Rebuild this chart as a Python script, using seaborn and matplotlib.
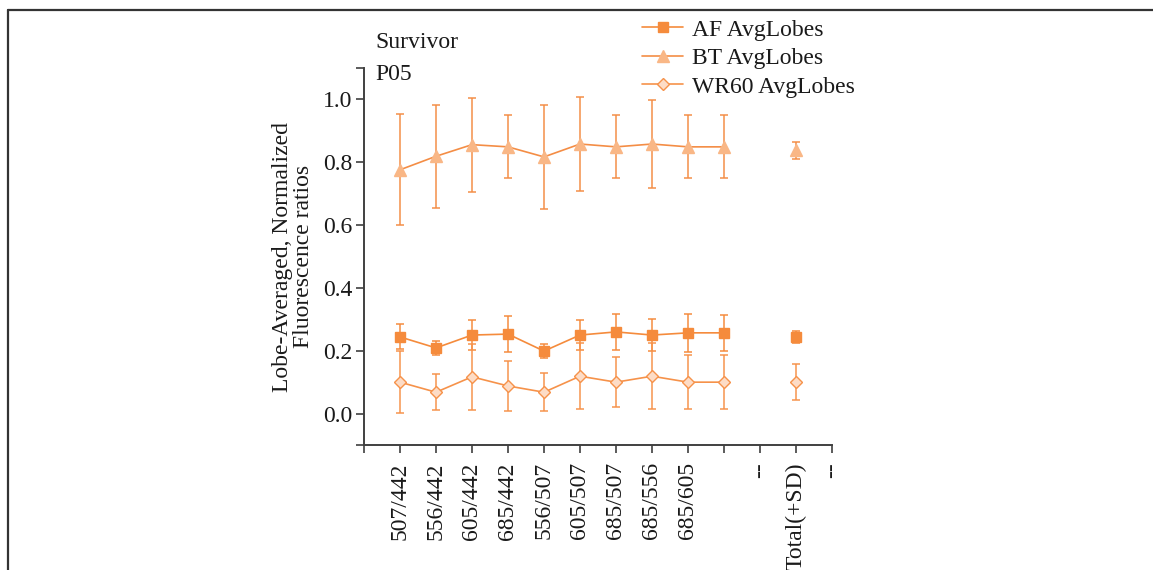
import matplotlib
matplotlib.use("Agg")
import matplotlib.pyplot as plt
import seaborn as sns
import pandas as pd
from matplotlib.lines import Line2D

# tick labels as printed under the x axis (tick 0 and tick 10 carry no label)
tick_labels = ["", "507/442", "556/442", "605/442", "685/442", "556/507",
               "605/507", "685/507", "685/556", "685/605", "", "--", "Total(+SD)", "--"]

af_mean = [0.244, 0.209, 0.250, 0.253, 0.199, 0.250, 0.260, 0.250, 0.257, 0.257]
af_sd = [0.040, 0.023, 0.048, 0.058, 0.022, 0.048, 0.058, 0.050, 0.060, 0.057]
bt_mean = [0.776, 0.819, 0.856, 0.849, 0.817, 0.858, 0.849, 0.858, 0.849, 0.849]
bt_sd = [0.177, 0.164, 0.150, 0.100, 0.165, 0.150, 0.100, 0.140, 0.100, 0.100]
wr_mean = [0.100, 0.068, 0.117, 0.088, 0.068, 0.119, 0.100, 0.119, 0.100, 0.100]
wr_sd = [0.098, 0.057, 0.105, 0.080, 0.060, 0.105, 0.080, 0.105, 0.085, 0.085]

total_mean = {"AF": 0.244, "BT": 0.838, "WR60": 0.100}
total_sd = {"AF": 0.020, "BT": 0.027, "WR60": 0.057}

x_pos = list(range(1, 11))
total_x = 12
FS = 17

sns.set_theme(style="ticks")
plt.rcParams["font.family"] = ["Liberation Serif", "DejaVu Serif"]

series = [
    ("BT", "BT AvgLobes", bt_mean, bt_sd, "^", "#f9b786", "#f9b786", "#f48d45", 9.0),
    ("AF", "AF AvgLobes", af_mean, af_sd, "s", "#f58b3c", "#f58b3c", "#f58b3c", 7.4),
    ("WR60", "WR60 AvgLobes", wr_mean, wr_sd, "D", "#fddcc6", "#f6924a", "#f6924a", 6.2),
]

fig = plt.figure(figsize=(11.53, 5.70), dpi=100)
ax = fig.add_axes([364 / 1153, 1 - 445 / 570, (832 - 364) / 1153, (445 - 68) / 570])

handles = {}
for key, label, mean, sd, mk, face, edge, line_c, ms in series:
    df = pd.DataFrame({"x": x_pos, "y": mean})
    ax.errorbar(x_pos, mean, yerr=sd, fmt="none", ecolor=line_c, elinewidth=1.2,
                capsize=2.8, capthick=1.2, alpha=0.9, zorder=2)
    ax.errorbar([total_x], [total_mean[key]], yerr=[total_sd[key]], fmt="none",
                ecolor=line_c, elinewidth=1.2, capsize=2.8, capthick=1.2, alpha=0.9, zorder=2)
    sns.lineplot(data=df, x="x", y="y", ax=ax, color=line_c, linewidth=1.2,
                 marker=mk, markersize=ms, markerfacecolor=face, markeredgecolor=edge,
                 markeredgewidth=1.0, zorder=3)
    tdf = pd.DataFrame({"x": [total_x], "y": [total_mean[key]]})
    sns.lineplot(data=tdf, x="x", y="y", ax=ax, color=line_c, linewidth=0,
                 marker=mk, markersize=ms, markerfacecolor=face, markeredgecolor=edge,
                 markeredgewidth=1.0, zorder=3)
    handles[key] = Line2D([], [], color=line_c, linewidth=1.2, marker=mk, markersize=ms,
                          markerfacecolor=face, markeredgecolor=edge, label=label)

ax.set_xlim(0, 13)
ax.set_ylim(-0.1, 1.1)
ax.set_xticks(range(0, 14))
ax.set_xticklabels(tick_labels, rotation=90, fontsize=FS)
ax.set_yticks([0.0, 0.2, 0.4, 0.6, 0.8, 1.0])
ax.set_yticklabels(["0.0", "0.2", "0.4", "0.6", "0.8", "1.0"], fontsize=FS)
ax.set_yticks([-0.1, 1.1], minor=True)
ax.tick_params(axis="both", which="both", direction="out", length=5.5, width=1.2,
               color="#404040", labelcolor="#1a1a1a")
ax.tick_params(axis="y", pad=3)
ax.tick_params(axis="x", pad=7)
for s in ["top", "right"]:
    ax.spines[s].set_visible(False)
for s in ["left", "bottom"]:
    ax.spines[s].set_color("#404040")
    ax.spines[s].set_linewidth(1.4)

ax.set_xlabel("")
ax.set_ylabel("Lobe-Averaged, Normalized\nFluorescence ratios", fontsize=FS,
              linespacing=1.05, labelpad=6, color="#1a1a1a")

fig.text(375 / 1153, 1 - 43 / 570, "Survivor", fontsize=FS, va="center", ha="left", color="#1a1a1a")
fig.text(375 / 1153, 1 - 75 / 570, "P05", fontsize=FS, va="center", ha="left", color="#1a1a1a")

leg = ax.legend(handles=[handles["AF"], handles["BT"], handles["WR60"]],
                loc="upper left", bbox_to_anchor=(642 / 1153, 1 - 19 / 570),
                bbox_transform=fig.transFigure, frameon=False, fontsize=FS,
                handlelength=1.75, handletextpad=0.35, labelspacing=0.3,
                borderpad=0, borderaxespad=0)
for t in leg.get_texts():
    t.set_color("#1a1a1a")

# outer frame edge of the original figure panel
fig.add_artist(Line2D([8 / 1153, 1], [1 - 10 / 570, 1 - 10 / 570], color="#333333", linewidth=1.6))
fig.add_artist(Line2D([8 / 1153, 8 / 1153], [0, 1 - 10 / 570], color="#333333", linewidth=1.6))

fig.savefig("out.png", dpi=100)
